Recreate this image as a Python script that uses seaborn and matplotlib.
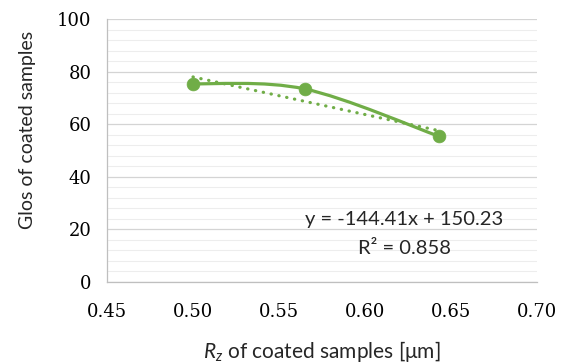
import numpy as np
import pandas as pd
import matplotlib
matplotlib.use("Agg")
import matplotlib.pyplot as plt
from matplotlib.path import Path
from matplotlib.patches import PathPatch
from matplotlib.ticker import MultipleLocator
import seaborn as sns

rz = [0.500, 0.565, 0.643]
gloss = [75.4, 73.4, 55.4]
eq_text = "y = -144.41x + 150.23"
r2_text = "R² = 0.858"
x_ticks = [0.45, 0.50, 0.55, 0.60, 0.65, 0.70]
y_ticks = [0, 20, 40, 60, 80, 100]

GREEN = "#70AD47"
df = pd.DataFrame({"rz": rz, "gloss": gloss})

sns.set_theme(style="white")
plt.rcParams['font.family'] = ['Lato', 'DejaVu Sans']
plt.rcParams['mathtext.fontset'] = 'custom'
plt.rcParams['mathtext.it'] = 'Lato:italic'
plt.rcParams['mathtext.rm'] = 'Lato'

fig = plt.figure(figsize=(5.67, 3.64), dpi=100)
ax = fig.add_axes([107/567, 1-282/364, 430/567, 263/364])

ax.set_xlim(0.45, 0.70)
ax.set_ylim(0, 100)

ax.yaxis.set_minor_locator(MultipleLocator(4))
ax.set_yticks(y_ticks)
ax.set_xticks(x_ticks)
ax.grid(which="major", axis="y", color="#d4d4d4", lw=0.9)
ax.grid(which="minor", axis="y", color="#ededed", lw=0.8)
ax.set_axisbelow(True)

# smoothed line through the data (Bezier, Catmull-Rom style)
xs = np.array(rz); ys = np.array(gloss)
verts = [(xs[0], ys[0])]
codes = [Path.MOVETO]
t = 1/6
n = len(xs)
for i in range(n-1):
    p0 = np.array([xs[max(i-1, 0)], ys[max(i-1, 0)]])
    p1 = np.array([xs[i], ys[i]])
    p2 = np.array([xs[i+1], ys[i+1]])
    p3 = np.array([xs[min(i+2, n-1)], ys[min(i+2, n-1)]])
    c1 = p1 + (p2 - p0) * t
    c2 = p2 - (p3 - p1) * t
    verts += [tuple(c1), tuple(c2), tuple(p2)]
    codes += [Path.CURVE4] * 3
ax.add_patch(PathPatch(Path(verts, codes), fill=False, edgecolor=GREEN, lw=2.3, zorder=3))

# linear trendline
m, b = np.polyfit(xs, ys, 1)
tx = np.array([xs.min(), xs.max()])
ax.plot(tx, m*tx + b, color=GREEN, lw=2.3, ls=(0, (0.1, 2.4)), dash_capstyle="round", zorder=3)

sns.scatterplot(data=df, x="rz", y="gloss", ax=ax, color=GREEN, s=85, edgecolor=GREEN,
                linewidth=0.5, zorder=4, legend=False)

for s in ["top", "right"]:
    ax.spines[s].set_visible(False)
for s in ["left", "bottom"]:
    ax.spines[s].set_color("#bfbfbf")
    ax.spines[s].set_linewidth(0.9)
ax.tick_params(axis="both", which="major", direction="out", length=6, width=0.9, color="#bfbfbf",
               labelcolor="#000000", labelsize=13, labelfontfamily="DejaVu Serif")
ax.tick_params(axis="y", which="minor", length=0)
ax.tick_params(axis="x", pad=9)
ax.tick_params(axis="y", pad=5)
ax.set_xticklabels([f"{v:.2f}" for v in x_ticks], fontfamily="DejaVu Serif", fontsize=13)
ax.set_yticklabels([str(v) for v in y_ticks], fontfamily="DejaVu Serif", fontsize=13)

ax.set_xlabel(r"$R_z$ of coated samples [μm]", fontsize=15)
ax.set_ylabel("Glos of coated samples", fontsize=14)
ax.xaxis.set_label_coords(0.5, (282-352)/263)
ax.yaxis.set_label_coords((27-107)/430, (282-130)/263)
ax.xaxis.label.set_va("center")
ax.yaxis.label.set_va("center")

fig.text(404/567, 1-220/364, eq_text, ha="center", va="center", fontsize=14.5)
fig.text(404/567, 1-249/364, r2_text, ha="center", va="center", fontsize=14.5)

fig.savefig("out.png", dpi=100)
